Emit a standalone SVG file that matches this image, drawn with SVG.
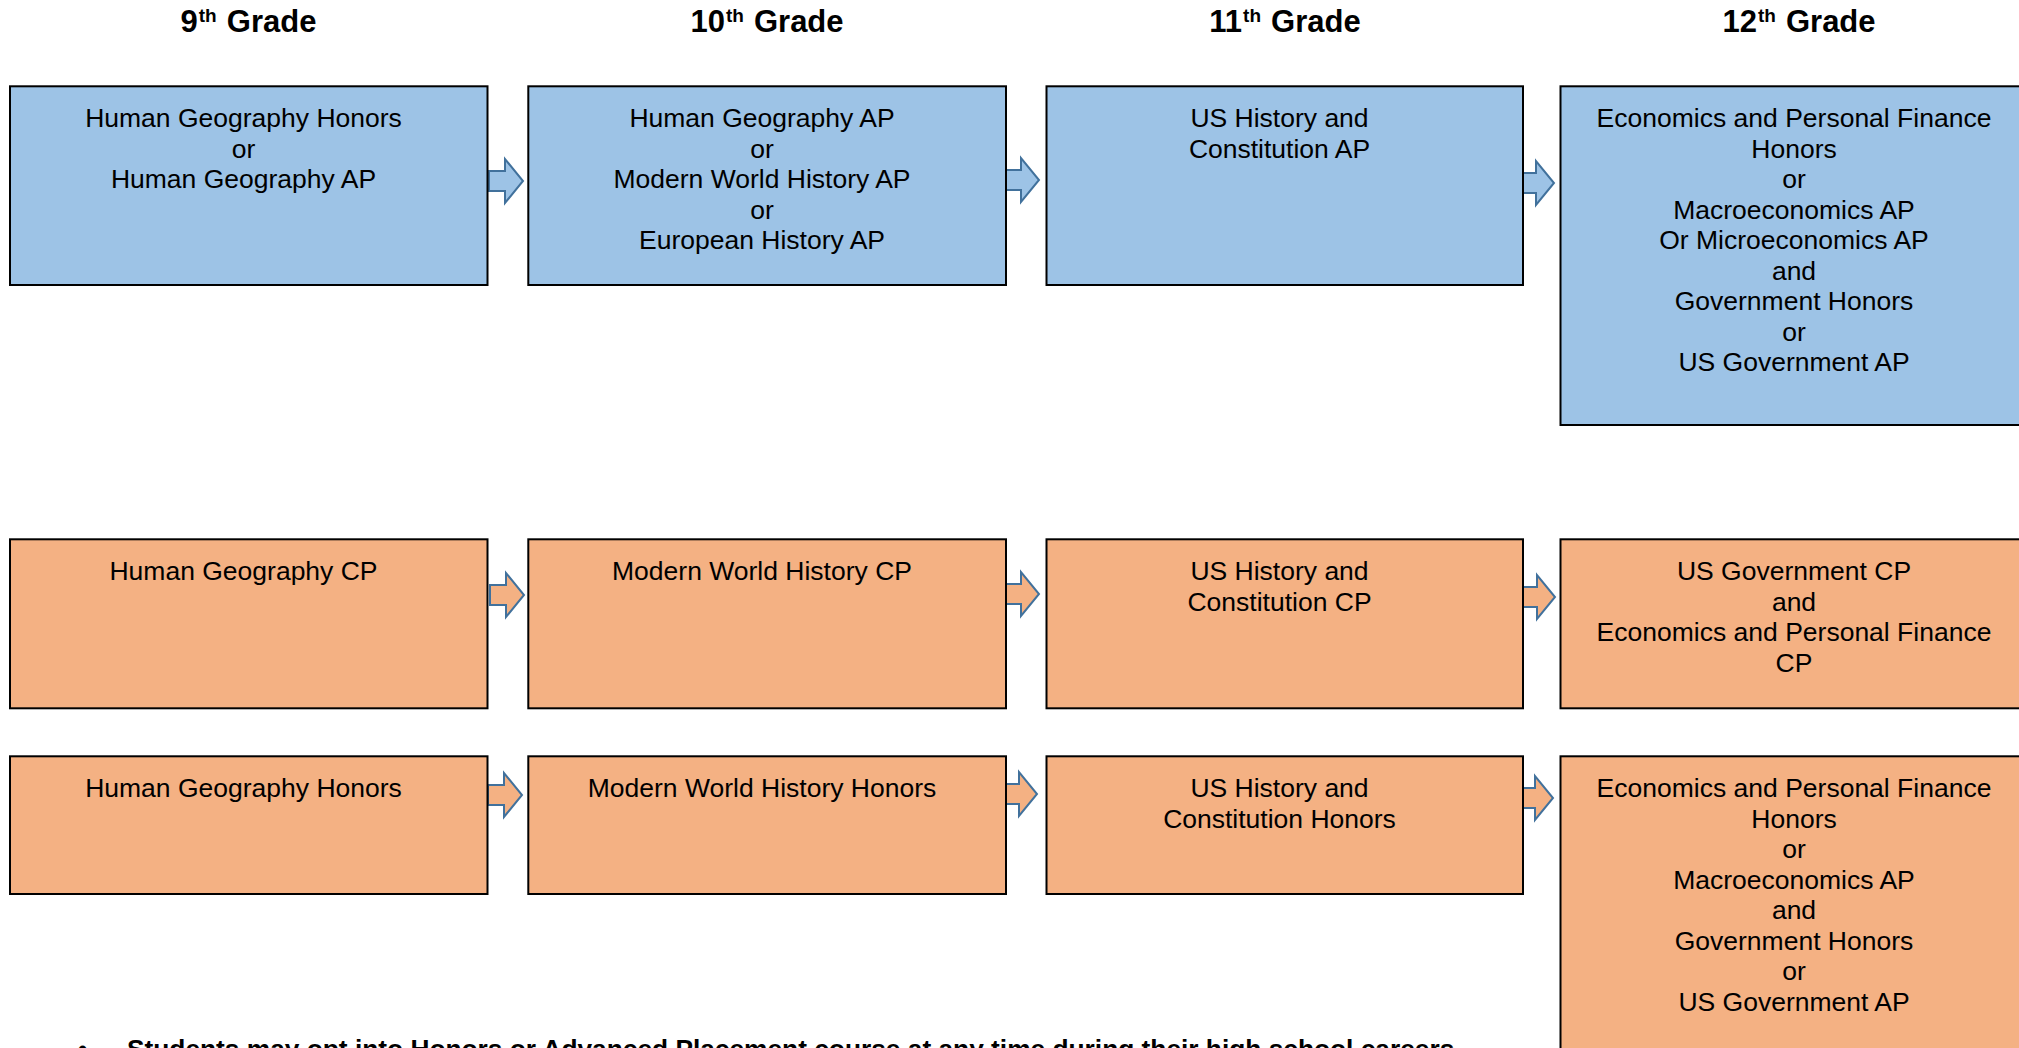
<svg xmlns="http://www.w3.org/2000/svg" xmlns:xlink="http://www.w3.org/1999/xlink" width="2019" height="1048" viewBox="0 0 2019 1048">
<style>
.hdr{font-family:"Liberation Sans",Arial,sans-serif;font-weight:bold;font-size:31px;fill:#000;text-anchor:middle}
.sup{font-size:19px}
.blue{fill:#9DC3E6;stroke:#000;stroke-width:2}
.orng{fill:#F4B183;stroke:#000;stroke-width:2}
.lbl{font-family:"Liberation Sans",Arial,sans-serif;font-size:26.5px;fill:#000;text-anchor:middle}
.arr{stroke:#41719C;stroke-width:2;stroke-linejoin:miter}
.ab{fill:#9DC3E6}
.ao{fill:#F4B183}
.note{font-family:"Liberation Sans",Arial,sans-serif;font-weight:bold;font-size:26.3px;fill:#000}
</style>
<defs>
<path id="arrow" d="M0,-10 H16 V-22 L34,0 L16,22 V10 H0 Z"/>
</defs>
<rect x="0" y="0" width="2019" height="1048" fill="#fff"/>

<g id="headers">
<text class="hdr" x="248.5" y="31.7">9<tspan class="sup" dx="1" dy="-10">th</tspan><tspan dx="1.5" dy="10"> Grade</tspan></text>
<text class="hdr" x="767" y="31.7">10<tspan class="sup" dx="1" dy="-10">th</tspan><tspan dx="1.5" dy="10"> Grade</tspan></text>
<text class="hdr" x="1285" y="31.7">11<tspan class="sup" dx="1" dy="-10">th</tspan><tspan dx="1.5" dy="10"> Grade</tspan></text>
<text class="hdr" x="1799" y="31.7">12<tspan class="sup" dx="1" dy="-10">th</tspan><tspan dx="1.5" dy="10"> Grade</tspan></text>
</g>

<g id="connectors">
<use href="#arrow" xlink:href="#arrow" class="arr ab" transform="translate(489,181)"/>
<use href="#arrow" xlink:href="#arrow" class="arr ab" transform="translate(1005,180)"/>
<use href="#arrow" xlink:href="#arrow" class="arr ab" transform="translate(1520,183)"/>
<use href="#arrow" xlink:href="#arrow" class="arr ao" transform="translate(490,595)"/>
<use href="#arrow" xlink:href="#arrow" class="arr ao" transform="translate(1005,594)"/>
<use href="#arrow" xlink:href="#arrow" class="arr ao" transform="translate(1521,597)"/>
<use href="#arrow" xlink:href="#arrow" class="arr ao" transform="translate(488,795)"/>
<use href="#arrow" xlink:href="#arrow" class="arr ao" transform="translate(1003,794)"/>
<use href="#arrow" xlink:href="#arrow" class="arr ao" transform="translate(1519,798)"/>
</g>

<g id="r1c1">
<rect class="blue" x="10" y="86.3" width="477.5" height="198.7"/>
<text class="lbl" x="243.5" y="127">Human Geography Honors<tspan x="243.5" dy="30.5">or</tspan><tspan x="243.5" dy="30.5">Human Geography AP</tspan></text>
</g>
<g id="r1c2">
<rect class="blue" x="528.3" y="86.3" width="477.7" height="198.7"/>
<text class="lbl" x="762" y="127">Human Geography AP<tspan x="762" dy="30.5">or</tspan><tspan x="762" dy="30.5">Modern World History AP</tspan><tspan x="762" dy="30.5">or</tspan><tspan x="762" dy="30.5">European History AP</tspan></text>
</g>
<g id="r1c3">
<rect class="blue" x="1046.5" y="86.3" width="476.5" height="198.7"/>
<text class="lbl" x="1279.5" y="127">US History and<tspan x="1279.5" dy="30.5">Constitution AP</tspan></text>
</g>
<g id="r1c4">
<rect class="blue" x="1560.5" y="86.3" width="478" height="338.7"/>
<text class="lbl" x="1794" y="127">Economics and Personal Finance<tspan x="1794" dy="30.5">Honors</tspan><tspan x="1794" dy="30.5">or</tspan><tspan x="1794" dy="30.5">Macroeconomics AP</tspan><tspan x="1794" dy="30.5">Or Microeconomics AP</tspan><tspan x="1794" dy="30.5">and</tspan><tspan x="1794" dy="30.5">Government Honors</tspan><tspan x="1794" dy="30.5">or</tspan><tspan x="1794" dy="30.5">US Government AP</tspan></text>
</g>

<g id="r2c1">
<rect class="orng" x="10" y="539.3" width="477.5" height="169"/>
<text class="lbl" x="243.5" y="580">Human Geography CP</text>
</g>
<g id="r2c2">
<rect class="orng" x="528.3" y="539.3" width="477.7" height="169"/>
<text class="lbl" x="762" y="580">Modern World History CP</text>
</g>
<g id="r2c3">
<rect class="orng" x="1046.5" y="539.3" width="476.5" height="169"/>
<text class="lbl" x="1279.5" y="580">US History and<tspan x="1279.5" dy="30.5">Constitution CP</tspan></text>
</g>
<g id="r2c4">
<rect class="orng" x="1560.5" y="539.3" width="478" height="169"/>
<text class="lbl" x="1794" y="580">US Government CP<tspan x="1794" dy="30.5">and</tspan><tspan x="1794" dy="30.5">Economics and Personal Finance</tspan><tspan x="1794" dy="30.5">CP</tspan></text>
</g>

<g id="r3c1">
<rect class="orng" x="10" y="756.3" width="477.5" height="137.7"/>
<text class="lbl" x="243.5" y="797">Human Geography Honors</text>
</g>
<g id="r3c2">
<rect class="orng" x="528.3" y="756.3" width="477.7" height="137.7"/>
<text class="lbl" x="762" y="797">Modern World History Honors</text>
</g>
<g id="r3c3">
<rect class="orng" x="1046.5" y="756.3" width="476.5" height="137.7"/>
<text class="lbl" x="1279.5" y="797">US History and<tspan x="1279.5" dy="30.5">Constitution Honors</tspan></text>
</g>
<g id="r3c4">
<rect class="orng" x="1560.5" y="756.3" width="478" height="320"/>
<text class="lbl" x="1794" y="797">Economics and Personal Finance<tspan x="1794" dy="30.5">Honors</tspan><tspan x="1794" dy="30.5">or</tspan><tspan x="1794" dy="30.5">Macroeconomics AP</tspan><tspan x="1794" dy="30.5">and</tspan><tspan x="1794" dy="30.5">Government Honors</tspan><tspan x="1794" dy="30.5">or</tspan><tspan x="1794" dy="30.5">US Government AP</tspan></text>
</g>

<g id="note">
<text class="note" x="78" y="1058">•</text>
<text class="note" x="127" y="1058">Students may opt into Honors or Advanced Placement course at any time during their high school careers</text>
</g>
</svg>
